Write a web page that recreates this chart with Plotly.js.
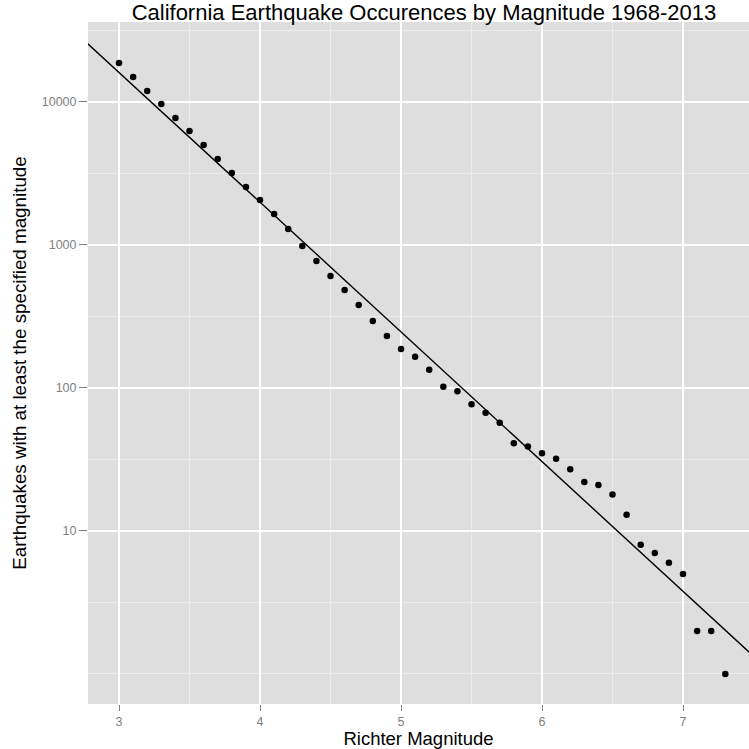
<!DOCTYPE html>
<html>
<head>
<meta charset="utf-8">
<script src="https://cdn.plot.ly/plotly-3.0.1.min.js"></script>
<style>html,body{margin:0;padding:0;background:#fff;}#chart{width:749px;height:749px;}</style>
</head>
<body>
<div id="chart"></div>
<script>
// Richter magnitude thresholds
const magnitudes = [3.0,3.1,3.2,3.3,3.4,3.5,3.6,3.7,3.8,3.9,
                    4.0,4.1,4.2,4.3,4.4,4.5,4.6,4.7,4.8,4.9,
                    5.0,5.1,5.2,5.3,5.4,5.5,5.6,5.7,5.8,5.9,
                    6.0,6.1,6.2,6.3,6.4,6.5,6.6,6.7,6.8,6.9,
                    7.0,7.1,7.2,7.3];
// Earthquakes with at least the given magnitude
const counts = [18750,14960,11940,9690,7730,6270,5000,3990,3180,2540,
                2064,1648,1294,985,773,607,484,380,294,231,
                187,165,134,102,95,77,67,57,41,39,
                35,32,27,22,21,18,13,8,7,6,
                5,2,2,1];
// Fitted Gutenberg-Richter line: log10(N) = fitA - fitB * M
const fitA = 6.927;
const fitB = 0.907;
const fitMags = [2.6, 7.7];
const fitCounts = fitMags.map(m => Math.pow(10, fitA - fitB * m));

const xTickVals = [3,4,5,6,7];
const yTickVals = [10,100,1000,10000];
const yTickText = ["10","100","1000","10000"];
const yMinorVals = [1, 3.1623, 31.623, 316.23, 3162.3, 31623];

const traces = [
  {x: fitMags, y: fitCounts, type: 'scatter', mode: 'lines',
   line: {color: '#000000', width: 1.4}, hoverinfo: 'skip', showlegend: false},
  {x: magnitudes, y: counts, type: 'scatter', mode: 'markers',
   marker: {color: '#000000', size: 6.5}, showlegend: false}
];

const layout = {
  width: 749, height: 749,
  paper_bgcolor: '#ffffff',
  plot_bgcolor: '#DEDEDE',
  margin: {l: 88, r: 0, t: 22, b: 45},
  font: {family: 'Liberation Sans, Arial, sans-serif'},
  title: {text: 'California Earthquake Occurences by Magnitude 1968-2013',
          font: {size: 22, color: '#000000'}, x: 0.566, xanchor: 'center', y: 0.983, yanchor: 'middle'},
  xaxis: {
    range: [2.78, 7.468],
    tickvals: xTickVals,
    ticktext: xTickVals.map(String),
    ticks: 'outside', ticklen: 6, tickwidth: 1, tickcolor: '#7F7F7F',
    tickfont: {size: 12.5, color: '#7F7F7F'},
    showgrid: true, gridcolor: '#FFFFFF', gridwidth: 1.6,
    zeroline: false, showline: false,
    minor: {tickvals: [2.5,3.5,4.5,5.5,6.5,7.5], showgrid: true, gridcolor: '#EFEFEF', gridwidth: 0.8, ticks: ''},
    title: {text: 'Richter Magnitude', font: {size: 18.5, color: '#000000'}, standoff: 2}
  },
  yaxis: {
    type: 'log',
    range: [-0.21, 4.559],
    tickvals: yTickVals,
    ticktext: yTickText,
    ticks: 'outside', ticklen: 8, tickwidth: 1, tickcolor: '#7F7F7F',
    tickfont: {size: 12.5, color: '#7F7F7F'},
    showgrid: true, gridcolor: '#FFFFFF', gridwidth: 1.6,
    zeroline: false, showline: false,
    minor: {tickvals: yMinorVals, showgrid: true, gridcolor: '#EFEFEF', gridwidth: 0.8, ticks: ''},
    title: {text: 'Earthquakes with at least the specified magnitude', font: {size: 18.8, color: '#000000'}, standoff: 10}
  }
};

Plotly.newPlot('chart', traces, layout, {displayModeBar: false, staticPlot: true});
</script>
</body>
</html>
